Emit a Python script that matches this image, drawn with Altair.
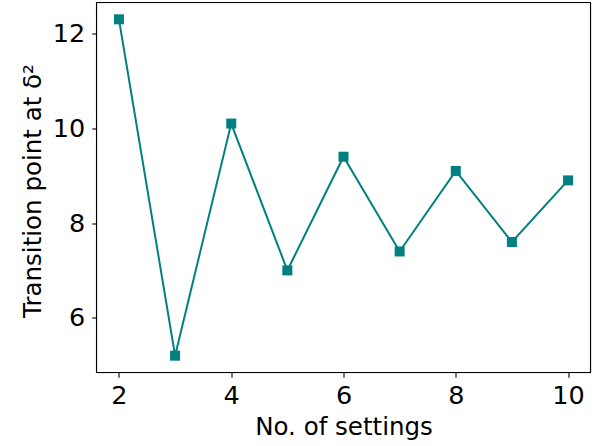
import altair as alt
import pandas as pd

settings = [2, 3, 4, 5, 6, 7, 8, 9, 10]
transition = [12.3, 5.2, 10.1, 7.0, 9.4, 7.4, 9.1, 7.6, 8.9]
x_ticks = [2, 4, 6, 8, 10]
y_ticks = [6, 8, 10, 12]

df = pd.DataFrame({"settings": settings, "transition": transition})

FONT = "DejaVu Sans"
COLOR = "#008080"
W, H = 494, 370

x = alt.X("settings:Q",
          scale=alt.Scale(domain=[1.6, 10.4], nice=False, zero=False),
          axis=alt.Axis(title="No. of settings", values=x_ticks, grid=False,
                        labelFontSize=25.5, titleFontSize=24.5, titleFontWeight="normal",
                        labelBaseline="alphabetic", labelPadding=26.5,
                        tickSize=4.7, tickWidth=1.1, tickColor="black",
                        domain=False, labelColor="black", titleColor="black",
                        titleBaseline="alphabetic", titleY=61.5, labelFlush=False,
                        labelFont=FONT, titleFont=FONT))
y = alt.Y("transition:Q",
          scale=alt.Scale(domain=[4.845, 12.655], nice=False, zero=False),
          axis=alt.Axis(title="Transition point at δ²", values=y_ticks, grid=False,
                        labelFontSize=25.5, titleFontSize=24.5, titleFontWeight="normal",
                        labelPadding=7, tickSize=4.7, tickWidth=1.1, tickColor="black",
                        domain=False, labelColor="black", titleColor="black",
                        titleBaseline="alphabetic", titleX=-56, titleY=188,
                        titleAngle=270, labelFlush=False,
                        labelFont=FONT, titleFont=FONT))

line = alt.Chart(df).mark_line(color=COLOR, strokeWidth=2).encode(x=x, y=y)
pts = alt.Chart(df).mark_point(shape="square", filled=True, color=COLOR,
                               size=100, opacity=1).encode(x=x, y=y)
frame = alt.Chart(pd.DataFrame({"f": [0]})).mark_rect(
    fill=None, stroke="black", strokeWidth=1.1
).encode(x=alt.value(0), x2=alt.value(W), y=alt.value(0), y2=alt.value(H))

chart = (line + pts + frame).properties(
    width=W, height=H,
    autosize=alt.AutoSizeParams(type="none"),
    padding={"left": 96.5, "top": 2.5, "right": 15.5, "bottom": 73.5},
).configure_view(strokeWidth=0).configure(background="white")

chart.save("out.html", embed_options={"renderer": "svg", "actions": False})
